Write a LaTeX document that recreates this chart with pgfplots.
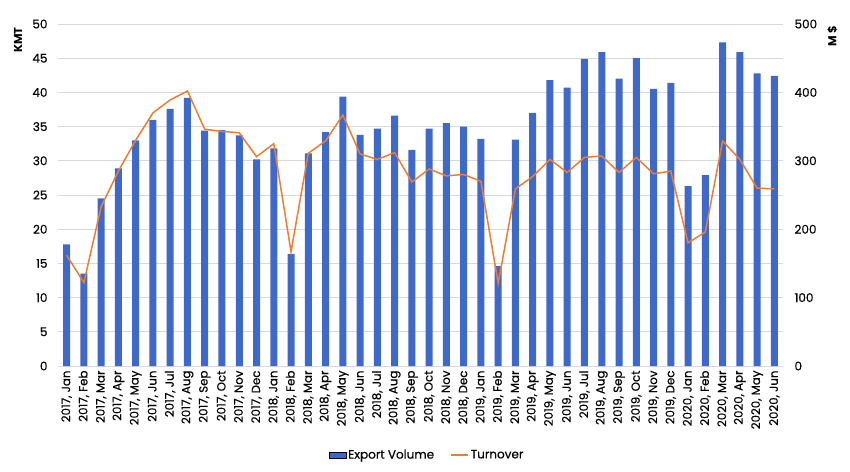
\documentclass[border=0pt]{standalone}
\usepackage{pgfplots}
\pgfplotsset{compat=1.18}
\usepackage{fontspec}
\setmainfont{Poppins}[UprightFeatures={FakeBold=0.5}]
\definecolor{barblue}{HTML}{3F69C9}
\definecolor{lineorange}{HTML}{ED7D31}
\definecolor{gridgray}{HTML}{D9D9D9}

\pgfplotstableread{
idx vol turn
0 17.8 162
1 13.5 122
2 24.5 233
3 28.9 285
4 33.0 330
5 36.0 370
6 37.6 389
7 39.2 402
8 34.4 346
9 34.5 343
10 33.7 341
11 30.2 306
12 31.8 325
13 16.4 167
14 31.1 311
15 34.2 329
16 39.4 367
17 33.8 310
18 34.7 302
19 36.6 312
20 31.6 269
21 34.7 288
22 35.5 278
23 35.0 280
24 33.2 270
25 14.6 121
26 33.1 259
27 37.0 277
28 41.8 302
29 40.7 283
30 44.9 305
31 45.9 307
32 42.0 283
33 45.0 305
34 40.5 281
35 41.4 285
36 26.3 180
37 27.9 196
38 47.3 329
39 45.9 302
40 42.8 260
41 42.4 259
}\datatable

\begin{document}
\begin{tikzpicture}
\useasboundingbox (-58pt,-105pt) rectangle (792pt,366pt);
\begin{axis}[
  at={(0,0)}, anchor=south west,
  scale only axis,
  width=725pt, height=342pt,
  xmin=-0.5, xmax=41.5,
  ymin=0, ymax=50,
  ytick={0,5,...,50},
  xtick={0,...,41},
  xticklabels={{2017, Jan},{2017, Feb},{2017, Mar},{2017, Apr},{2017, May},{2017, Jun},{2017, Jul},{2017, Aug},{2017, Sep},{2017, Oct},{2017, Nov},{2017, Dec},
    {2018, Jan},{2018, Feb},{2018, Mar},{2018, Apr},{2018, May},{2018, Jun},{2018, Jul},{2018, Aug},{2018, Sep},{2018, Oct},{2018, Nov},{2018, Dec},
    {2019, Jan},{2019, Feb},{2019, Mar},{2019, Apr},{2019, May},{2019, Jun},{2019, Jul},{2019, Aug},{2019, Sep},{2019, Oct},{2019, Nov},{2019, Dec},
    {2020, Jan},{2020, Feb},{2020, Mar},{2020, Apr},{2020, May},{2020, Jun}},
  xticklabel style={rotate=90, anchor=east, font=\fontsize{11.8}{13}\selectfont, xshift=-1pt},
  yticklabel style={font=\fontsize{12}{14}\selectfont, xshift=-7pt},
  /pgf/number format/assume math mode=true,
  axis line style={draw=none},
  major tick length=0pt,
  ymajorgrids,
  grid style={gridgray, line width=0.9pt},
  ylabel={\bfseries KMT},
  ylabel style={at={(axis description cs:-0.055,0.953)}, anchor=center, font=\fontsize{11.5}{13}\selectfont},
  legend style={at={(axis description cs:0.509,-0.26)}, anchor=center, draw=none,
    legend columns=2, font=\fontsize{12}{14}\selectfont,
    /tikz/every even column/.append style={column sep=14pt}},
  legend cell align=left,
]
\addplot[ybar, bar width=7pt, fill=barblue, draw=none, area legend] table[x=idx, y=vol] {\datatable};
\addlegendentry{Export Volume}
\addlegendimage{lineorange, line width=1.5pt}
\addlegendentry{Turnover}
\end{axis}
\begin{axis}[
  at={(0,0)}, anchor=south west,
  scale only axis,
  width=725pt, height=342pt,
  xmin=-0.5, xmax=41.5,
  ymin=0, ymax=500,
  ytick={0,100,...,500},
  axis y line*=right,
  axis x line=none,
  axis line style={draw=none},
  major tick length=0pt,
  yticklabel style={font=\fontsize{12}{14}\selectfont, xshift=8pt},
  /pgf/number format/assume math mode=true,
  ylabel={\bfseries M \$},
  ylabel style={at={(axis description cs:1.068,0.965)}, anchor=center, rotate=0, font=\fontsize{11.5}{13}\selectfont},
]
\addplot[lineorange, line width=1.5pt, mark=none] table[x=idx, y=turn] {\datatable};
\end{axis}
\end{tikzpicture}
\end{document}
